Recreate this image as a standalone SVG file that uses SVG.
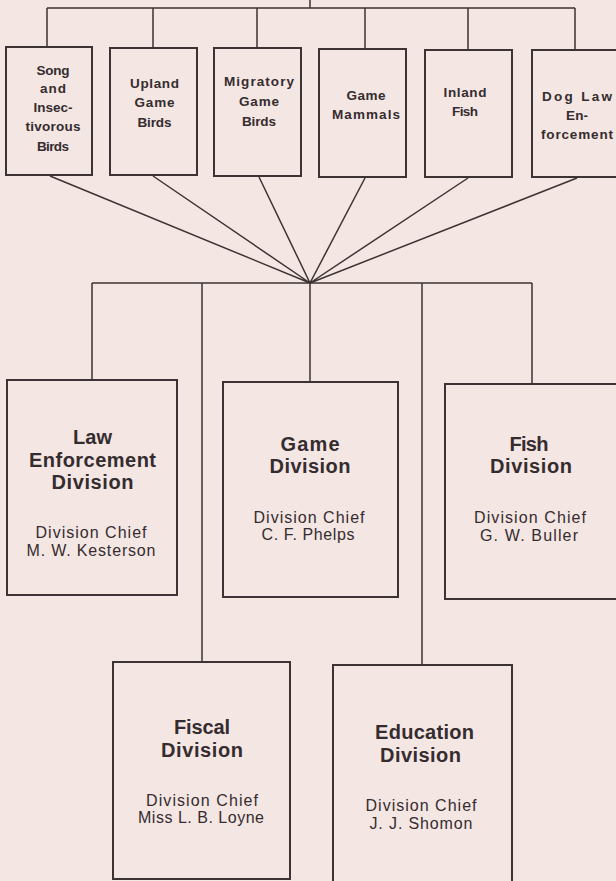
<svg xmlns="http://www.w3.org/2000/svg" width="616" height="881" viewBox="0 0 616 881">
<style>
.bg{fill:#f4e6e3}
.box{fill:none;stroke:#3d3335;stroke-width:2}
.ln{fill:none;stroke:#3d3335;stroke-width:1.5}
text{font-family:"Liberation Sans",Arial,sans-serif;fill:#352c2f;text-anchor:middle}
.s{font-size:13.5px;font-weight:bold}
.h{font-size:20px;font-weight:bold}
.c{font-size:16px}
</style>
<rect class="bg" x="0" y="0" width="616" height="881"/>
<g id="connectors">
<path class="ln" d="M310 0V8M47 8H575M47 8V47M153 8V48M257 8V48M365 8V49M468 8V50M575 8V50"/>
<path class="ln" d="M50 176L310 283M153 176L310 283M259 177L310 283M365 178L310 283M468 178L310 283M577 178L310 283"/>
<path class="ln" d="M92 283H532M92 283V380M202 283V662M310 283V382M422 283V665M532 283V384"/>
</g>
<g id="song">
<rect class="box" x="6" y="47" width="86" height="128"/>
<text class="s" x="53" y="75" textLength="33">Song</text>
<text class="s" x="53" y="93" textLength="26">and</text>
<text class="s" x="53" y="112" textLength="39">Insec-</text>
<text class="s" x="53" y="131" textLength="55">tivorous</text>
<text class="s" x="53" y="151" textLength="32">Birds</text>
</g>
<g id="upland">
<rect class="box" x="110" y="48" width="87" height="127"/>
<text class="s" x="154.5" y="88" textLength="49">Upland</text>
<text class="s" x="154.5" y="107" textLength="40">Game</text>
<text class="s" x="154.5" y="127" textLength="34">Birds</text>
</g>
<g id="migratory">
<rect class="box" x="214" y="48" width="87" height="128"/>
<text class="s" x="259" y="86" textLength="70">Migratory</text>
<text class="s" x="259" y="106" textLength="40">Game</text>
<text class="s" x="259" y="126" textLength="34">Birds</text>
</g>
<g id="mammals">
<rect class="box" x="319" y="49" width="87" height="128"/>
<text class="s" x="366" y="100" textLength="39">Game</text>
<text class="s" x="366" y="119" textLength="68">Mammals</text>
</g>
<g id="inland">
<rect class="box" x="425" y="50" width="87" height="127"/>
<text class="s" x="465" y="97" textLength="43">Inland</text>
<text class="s" x="465" y="116" textLength="26">Fish</text>
</g>
<g id="dog">
<rect class="box" x="532" y="50" width="92" height="127"/>
<text class="s" x="577" y="101" textLength="70">Dog Law</text>
<text class="s" x="577" y="120" textLength="22">En-</text>
<text class="s" x="577" y="139" textLength="72">forcement</text>
</g>
<g id="law">
<rect class="box" x="7" y="380" width="170" height="215"/>
<text class="h" x="92.5" y="444" textLength="39">Law</text>
<text class="h" x="92.5" y="467" textLength="127">Enforcement</text>
<text class="h" x="92.5" y="489" textLength="82">Division</text>
<text class="c" x="91" y="538" textLength="111">Division Chief</text>
<text class="c" x="91" y="556" textLength="129">M. W. Kesterson</text>
</g>
<g id="game">
<rect class="box" x="223" y="382" width="175" height="215"/>
<text class="h" x="310" y="451" textLength="59">Game</text>
<text class="h" x="310" y="473" textLength="81">Division</text>
<text class="c" x="309" y="523" textLength="111">Division Chief</text>
<text class="c" x="308" y="540" textLength="93">C. F. Phelps</text>
</g>
<g id="fish">
<rect class="box" x="445" y="384" width="180" height="215"/>
<text class="h" x="529" y="451" textLength="39">Fish</text>
<text class="h" x="531" y="473" textLength="82">Division</text>
<text class="c" x="530" y="523" textLength="112">Division Chief</text>
<text class="c" x="529" y="541" textLength="98">G. W. Buller</text>
</g>
<g id="fiscal">
<rect class="box" x="113" y="662" width="177" height="217"/>
<text class="h" x="202" y="734" textLength="56">Fiscal</text>
<text class="h" x="202" y="757" textLength="82">Division</text>
<text class="c" x="202" y="806" textLength="112">Division Chief</text>
<text class="c" x="201" y="823" textLength="126">Miss L. B. Loyne</text>
</g>
<g id="education">
<rect class="box" x="333" y="665" width="179" height="225"/>
<text class="h" x="424.5" y="739" textLength="99">Education</text>
<text class="h" x="420.5" y="762" textLength="81">Division</text>
<text class="c" x="421" y="811" textLength="111">Division Chief</text>
<text class="c" x="421" y="829" textLength="103">J. J. Shomon</text>
</g>
</svg>
